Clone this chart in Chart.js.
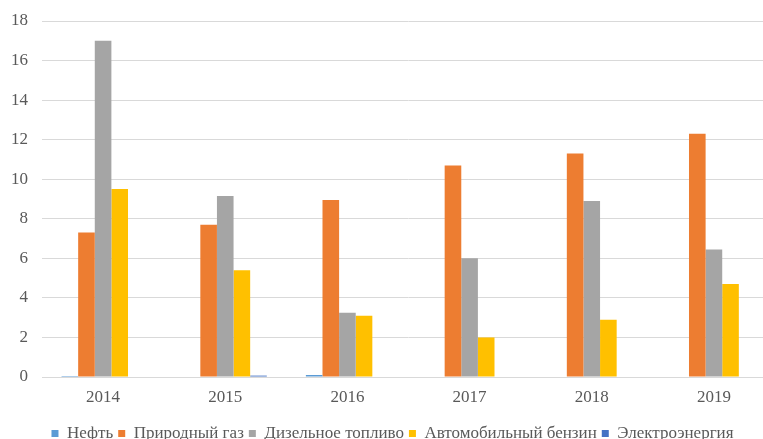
<!DOCTYPE html>
<html lang="ru">
<head>
<meta charset="utf-8">
<title>Chart</title>
<script src="https://cdn.jsdelivr.net/npm/chart.js@4/dist/chart.umd.min.js"></script>
<style>
  html, body { margin: 0; padding: 0; background: #fff; overflow: hidden; }
  #wrap { width: 763px; height: 439px; overflow: hidden; }
</style>
</head>
<body>
<div id="wrap"><canvas id="fuelChart" width="775" height="452"></canvas></div>
<script>
// ============================================
// DATA
// ============================================

const YEARS = ["2014", "2015", "2016", "2017", "2018", "2019"];

const SERIES_NAMES = ["Нефть", "Природный газ", "Дизельное топливо", "Автомобильный бензин", "Электроэнергия"];

const OIL = [0.05, 0, 0.1, 0, 0, 0];
const GAS = [7.3, 7.7, 8.95, 10.7, 11.3, 12.3];
const DIESEL = [17.0, 9.15, 3.25, 6.0, 8.9, 6.45];
const PETROL = [9.5, 5.4, 3.1, 2.0, 2.9, 4.7];
const POWER = [0, 0.07, 0, 0, 0, 0];

const Y_TICKS = [0, 2, 4, 6, 8, 10, 12, 14, 16, 18];

const COLORS = ["#5B9BD5", "#ED7D31", "#A5A5A5", "#FFC000", "#4472C4"];

const TEXT_COLOR = "#595959";
const GRID_COLOR = "#D9D9D9";
const FONT = "'Liberation Serif', 'Times New Roman', serif";


// ============================================
// CHART
// ============================================

Chart.defaults.font.family = FONT;
Chart.defaults.color = TEXT_COLOR;

const values = [OIL, GAS, DIESEL, PETROL, POWER];

new Chart(document.getElementById("fuelChart"), {
  type: "bar",
  data: {
    labels: YEARS,
    datasets: SERIES_NAMES.map((name, i) => ({
      label: name,
      data: values[i],
      backgroundColor: COLORS[i],
      borderWidth: 0,
      categoryPercentage: 0.68,
      barPercentage: 1
    }))
  },
  options: {
    responsive: false,
    animation: false,
    layout: {
      padding: { top: 21, left: 10, right: 0, bottom: 0 }
    },
    plugins: {
      tooltip: { enabled: false },
      legend: {
        position: "bottom",
        labels: {
          usePointStyle: true,
          pointStyle: "rect",
          boxWidth: 7,
          boxHeight: 7,
          padding: 5,
          color: TEXT_COLOR,
          font: { size: 17 }
        }
      }
    },
    scales: {
      x: {
        grid: { display: false },
        border: { display: true, color: GRID_COLOR, width: 1 },
        ticks: { font: { size: 17 }, padding: 2, color: TEXT_COLOR },
        afterFit: scale => { scale.height = 43; }
      },
      y: {
        min: 0,
        max: 18,
        afterBuildTicks: scale => {
          scale.ticks = Y_TICKS.map(v => ({ value: v }));
        },
        grid: { color: GRID_COLOR, lineWidth: 1, drawTicks: false },
        border: { display: false },
        ticks: { font: { size: 17 }, padding: 14, color: TEXT_COLOR },
        afterFit: scale => {
          scale.width = 32;
          scale.paddingTop = 0;
          scale.paddingBottom = 0;
        }
      }
    }
  }
});
</script>
</body>
</html>
